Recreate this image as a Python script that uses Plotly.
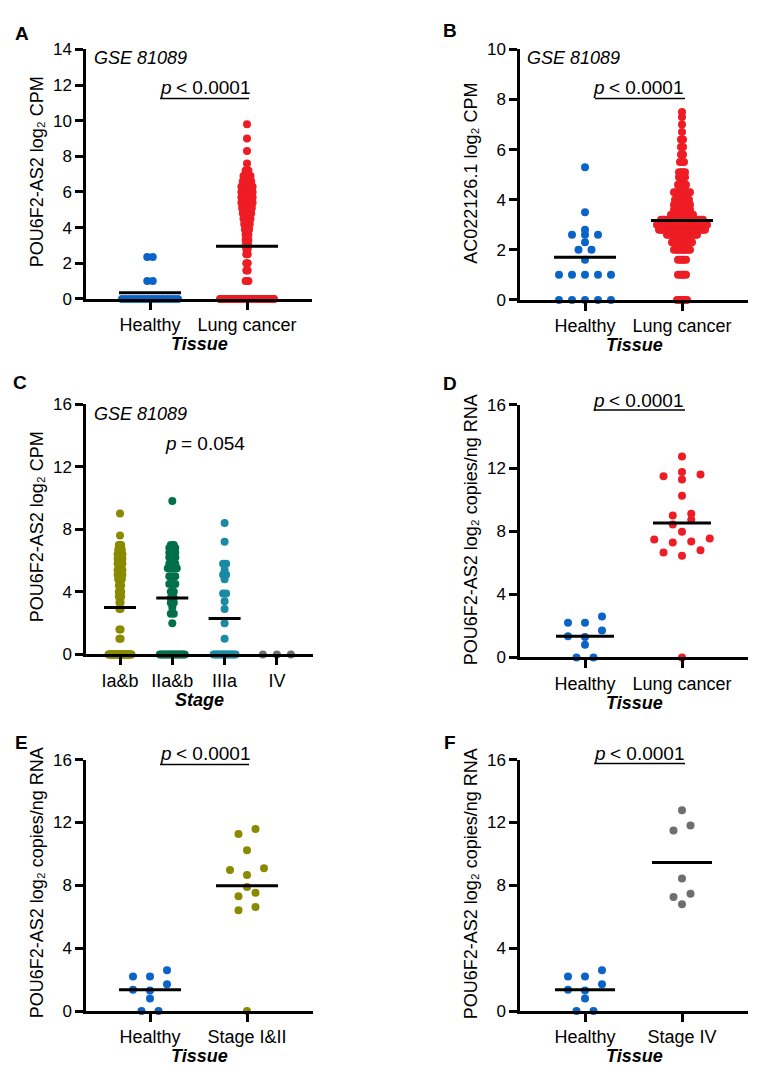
import numpy as np
import plotly.graph_objects as go

# the page body keeps its default 8 px margin, so the figure is 16 px smaller
# than the window and every reference pixel is shifted by that margin
OFF = 8
W, H = 766 - 2 * OFF, 1086 - 2 * OFF
FONT = "Liberation Sans, Arial, sans-serif"

BLUE = "#0a64c8"
RED = "#ee1c24"
OLIVE = "#8a8a00"
GREEN = "#00704a"
TEAL = "#1a8aa5"
GREY = "#6e6e6e"

# ---- data ----
# A: GSE81089, POU6F2-AS2 (value -> number of samples)
a_healthy_vals = [0.0, 1.0, 2.35]
a_healthy_counts = [16, 2, 2]
a_lung_vals = [0.0, 1.0, 1.6, 2.0, 2.5, 2.8, 3.0, 3.3, 3.6, 3.9, 4.2, 4.5, 4.8, 5.1,
               5.4, 5.7, 6.0, 6.3, 6.6, 6.9, 7.2, 7.6, 8.3, 9.0, 9.8]
a_lung_counts = [78, 3, 2, 2, 2, 2, 3, 3, 3, 4, 5, 6, 7, 8, 9, 9, 9, 9, 7, 6, 3, 1, 1, 1, 1]
a_means = [0.35, 2.95]

# B: GSE81089, AC022126.1
b_healthy_vals = [0.0, 1.0, 1.6, 2.0, 2.3, 2.6, 2.8, 3.5, 5.3]
b_healthy_counts = [5, 5, 1, 2, 1, 3, 1, 1, 1]
b_lung_vals = [0.0, 1.0, 1.6, 2.0, 2.3, 2.6, 2.8, 3.0, 3.2, 3.4, 3.6, 3.8, 4.0, 4.3, 4.6,
               4.9, 5.1, 5.5, 5.8, 6.1, 6.4, 6.7, 7.0, 7.3, 7.5]
b_lung_counts = [6, 5, 5, 9, 11, 16, 24, 26, 22, 12, 9, 9, 8, 9, 5, 4, 4, 3, 2, 2, 2, 1, 1, 1, 1]
b_means = [1.7, 3.17]

# C: GSE81089 by stage
c_ia_vals = [0.0, 1.0, 1.6, 2.9, 3.3, 3.7, 4.0, 4.4, 4.8, 5.1, 5.4, 5.8, 6.1, 6.4, 6.7, 7.0, 7.6, 9.0]
c_ia_counts = [39, 2, 2, 2, 2, 3, 3, 3, 4, 5, 5, 5, 5, 5, 4, 3, 1, 1]
c_iia_vals = [0.0, 2.0, 2.6, 3.0, 3.3, 3.6, 4.0, 4.5, 5.0, 5.5, 5.8, 6.2, 6.5, 6.8, 7.0, 9.8]
c_iia_counts = [16, 1, 2, 1, 2, 2, 2, 3, 3, 4, 3, 3, 3, 3, 2, 1]
c_iiia_vals = [0.0, 1.0, 2.0, 2.9, 3.4, 3.9, 4.8, 5.1, 5.4, 5.8, 7.2, 8.4]
c_iiia_counts = [14, 1, 1, 1, 1, 2, 1, 2, 1, 2, 1, 1]
c_iv_vals = [0.0]
c_iv_counts = [3]
c_means = [3.0, 3.6, 2.3]

# D-F: qPCR, log2 copies/ng RNA
healthy_qpcr = [0.0, 0.0, 0.8, 1.3, 1.35, 1.7, 2.2, 2.2, 2.6]
lung_qpcr = [0.0, 6.44, 6.65, 6.8, 7.28, 7.34, 7.48, 7.53, 7.96, 8.42, 8.73, 9.0, 9.11,
             10.25, 11.27, 11.48, 11.6, 11.75, 12.74]
stage12_qpcr = [0.0, 6.41, 6.62, 7.31, 7.52, 7.89, 8.66, 8.98, 9.08, 10.23, 11.27, 11.59]
stage4_qpcr = [6.8, 7.26, 7.47, 8.43, 11.49, 11.8, 12.78]
d_means = [1.35, 8.52]
e_means = [1.35, 7.97]
f_means = [1.35, 9.45]


def swarm(values, row_h, step, cap):
    # GraphPad-like rows: close values share a row, spread symmetrically
    v = np.sort(np.asarray(values, dtype=float))
    rows, cur = [], [v[0]]
    for x in v[1:]:
        if x - cur[0] > row_h:
            rows.append(cur)
            cur = [x]
        else:
            cur.append(x)
    rows.append(cur)
    ys, offs = [], []
    for r in rows:
        n = len(r)
        s = step if n == 1 else min(step, 2 * cap / (n - 1))
        slots = sorted([(i - (n - 1) / 2) * s for i in range(n)], key=lambda o: (abs(o), o))
        ys += list(r)
        offs += slots
    return np.array(ys), np.array(offs)


ytitle_cpm = "POU6F2-AS2 log\u2082 CPM"
ytitle_qpcr = "POU6F2-AS2 log\u2082 copies/ng RNA"
P_REST = "&lt; 0.0001"

panels = [
    dict(letter="A", box=(86, 312, 41, 295), ymax=14, dtick=2, cat0=150, ppu=97,
         cats=["Healthy", "Lung cancer"],
         groups=[(np.repeat(a_healthy_vals, a_healthy_counts), BLUE, 5.5, 28),
                 (np.repeat(a_lung_vals, a_lung_counts), RED, 1.4, 27)],
         means=a_means, row_h=0.1, mean_hw=31,
         ytitle=ytitle_cpm, ytx=37, xtitle="Tissue", letter_xy=(22, 25),
         gse=(92, 50), prest=P_REST, pxy=(158, 80), pline=(160, 249, 91)),
    dict(letter="B", box=(520, 748, 41, 296), ymax=10, dtick=2, cat0=585, ppu=97,
         cats=["Healthy", "Lung cancer"],
         groups=[(np.repeat(b_healthy_vals, b_healthy_counts), BLUE, 13, 30),
                 (np.repeat(b_lung_vals, b_lung_counts), RED, 2.0, 25)],
         means=b_means, row_h=0.1, mean_hw=31,
         ytitle="AC022126.1 log\u2082 CPM", ytx=471, xtitle="Tissue",
         letter_xy=(450, 22), gse=(525, 50), prest=P_REST, pxy=(591, 80), pline=(595, 685, 91)),
    dict(letter="C", box=(86, 313, 402, 657), ymax=16, dtick=4, cat0=120, ppu=52.3,
         cats=["Ia&b", "IIa&b", "IIIa", "IV"],
         groups=[(np.repeat(c_ia_vals, c_ia_counts), OLIVE, 1.2, 11.5),
                 (np.repeat(c_iia_vals, c_iia_counts), GREEN, 3.0, 12.5),
                 (np.repeat(c_iiia_vals, c_iiia_counts), TEAL, 3.0, 11),
                 (np.repeat(c_iv_vals, c_iv_counts), GREY, 14, 20)],
         means=c_means, row_h=0.1, mean_hw=16,
         ytitle=ytitle_cpm, ytx=37, xtitle="Stage", letter_xy=(20, 380),
         gse=(92, 412), prest="= 0.054", pxy=(163, 442), pline=None),
    dict(letter="D", box=(520, 748, 403, 660), ymax=16, dtick=4, cat0=585, ppu=97,
         cats=["Healthy", "Lung cancer"],
         groups=[(healthy_qpcr, BLUE, 17, 40), (lung_qpcr, RED, 18.5, 40)],
         means=d_means, row_h=0.45, mean_hw=29,
         ytitle=ytitle_qpcr, ytx=471, xtitle="Tissue", letter_xy=(450, 381),
         gse=None, prest=P_REST, pxy=(591, 398), pline=(594, 685, 408)),
    dict(letter="E", box=(86, 313, 764, 1020), ymax=16, dtick=4, cat0=150, ppu=97,
         cats=["Healthy", "Stage I&II"],
         groups=[(healthy_qpcr, BLUE, 17, 40), (stage12_qpcr, OLIVE, 17, 40)],
         means=e_means, row_h=0.45, mean_hw=31,
         ytitle=ytitle_qpcr, ytx=37, xtitle="Tissue", letter_xy=(21, 747),
         gse=None, prest=P_REST, pxy=(158, 758), pline=(160, 249, 769)),
    dict(letter="F", box=(520, 748, 764, 1020), ymax=16, dtick=4, cat0=585, ppu=97,
         cats=["Healthy", "Stage IV"],
         groups=[(healthy_qpcr, BLUE, 17, 40), (stage4_qpcr, GREY, 17, 40)],
         means=f_means, row_h=0.45, mean_hw=30,
         ytitle=ytitle_qpcr, ytx=471, xtitle="Tissue", letter_xy=(450, 747),
         gse=None, prest=P_REST, pxy=(592, 758), pline=(594, 685, 768)),
]


def px(x):
    return (x - OFF) / W


def py(y):
    return 1 - (y - OFF) / H


def note(text, x, y, size, xanchor="center", angle=0):
    return dict(text=text, x=px(x), y=py(y), xref="paper", yref="paper", showarrow=False,
                xanchor=xanchor, yanchor="middle", textangle=angle,
                font=dict(family=FONT, size=size, color="black"))


fig = go.Figure()
layout = dict(width=W, height=H, margin=dict(l=0, r=0, t=0, b=0),
              paper_bgcolor="white", plot_bgcolor="white", showlegend=False,
              font=dict(family=FONT, size=18, color="black"))
annotations, shapes = [], []

for i, p in enumerate(panels, start=1):
    sfx = "" if i == 1 else str(i)
    left, right, top, bottom = p["box"]
    ppu = p["ppu"]
    xr = [-(p["cat0"] - left) / ppu, (right - p["cat0"]) / ppu]
    axis_common = dict(showline=True, linewidth=2.5, linecolor="black", ticks="outside",
                       ticklen=8, tickwidth=2.5, tickcolor="black", showgrid=False,
                       zeroline=False, fixedrange=True)
    layout["xaxis" + sfx] = dict(axis_common, domain=[px(left), px(right)], range=xr,
                                 anchor="y" + sfx, tickvals=list(range(len(p["cats"]))),
                                 ticktext=p["cats"],
                                 tickfont=dict(family=FONT, size=18, color="black"))
    layout["yaxis" + sfx] = dict(axis_common, domain=[py(bottom), py(top)], range=[0, p["ymax"]],
                                 anchor="x" + sfx, dtick=p["dtick"], tick0=0,
                                 tickfont=dict(family=FONT, size=17, color="black"))

    for k, (vals, color, step, cap) in enumerate(p["groups"]):
        ys, offs = swarm(vals, p["row_h"], step, cap)
        fig.add_trace(go.Scatter(x=k + offs / ppu, y=ys, mode="markers",
                                 marker=dict(size=8, color=color, line=dict(width=0)),
                                 cliponaxis=False, xaxis="x" + sfx, yaxis="y" + sfx,
                                 hoverinfo="y"))
    hw = p["mean_hw"] / ppu
    for k, m in enumerate(p["means"]):
        fig.add_trace(go.Scatter(x=[k - hw, k + hw], y=[m, m], mode="lines",
                                 line=dict(color="black", width=3), cliponaxis=False,
                                 xaxis="x" + sfx, yaxis="y" + sfx, hoverinfo="skip"))

    lx, ly = p["letter_xy"]
    annotations.append(note("<b>%s</b>" % p["letter"], lx, ly, 19))
    annotations.append(note(p["ytitle"], p["ytx"], (top + bottom) / 2 - 2, 18, angle=-90))
    xmid = p["cat0"] + ppu * (len(p["cats"]) - 1) / 2
    annotations.append(note("<b><i>%s</i></b>" % p["xtitle"], xmid + 1, bottom + 46, 18))
    if p["gse"]:
        gx, gy = p["gse"]
        annotations.append(note("<i>GSE 81089</i>", gx, gy, 18, xanchor="left"))
    tx, ty = p["pxy"]
    annotations.append(note("<i>p</i>", tx, ty, 19, xanchor="left"))
    annotations.append(note(p["prest"], tx + 16, ty, 19, xanchor="left"))
    if p["pline"]:
        x0, x1, yl = p["pline"]
        shapes.append(dict(type="line", xref="paper", yref="paper", x0=px(x0), x1=px(x1),
                           y0=py(yl), y1=py(yl), line=dict(color="black", width=1.5)))

layout["annotations"] = annotations
layout["shapes"] = shapes
fig.update_layout(**layout)
fig.write_html("out.html")
